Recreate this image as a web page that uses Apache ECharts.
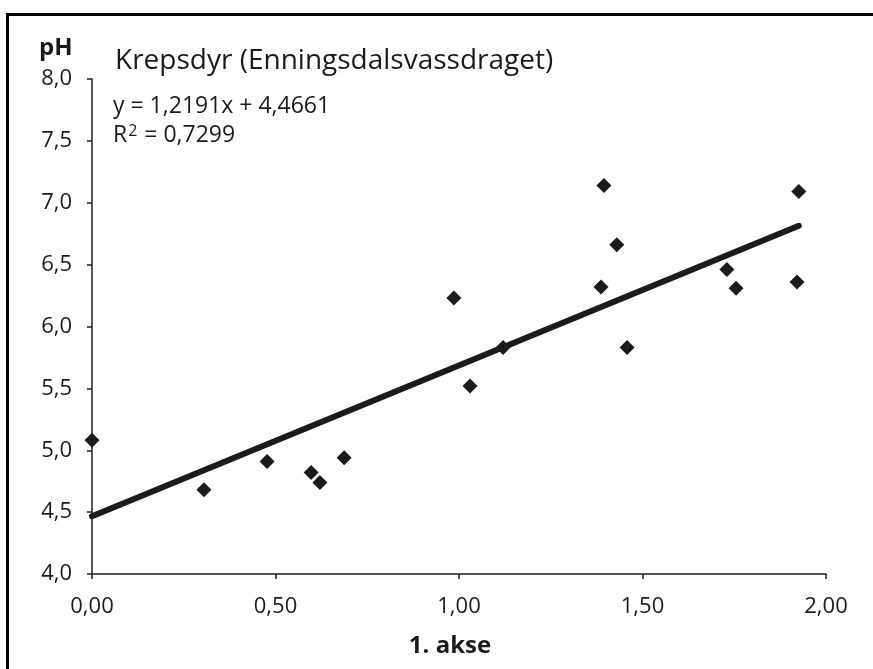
<!DOCTYPE html>
<html>
<head>
<meta charset="utf-8">
<style>
  html, body { margin: 0; padding: 0; background: #fff; }
  #chart { width: 873px; height: 669px; }
</style>
<script src="https://cdn.jsdelivr.net/npm/echarts@6/dist/echarts.min.js"></script>
</head>
<body>
<div id="chart"></div>
<script>
// Data
const pointX = [0.00, 0.305, 0.477, 0.597, 0.621, 0.687, 0.986, 1.03, 1.120, 1.387, 1.395, 1.430, 1.458, 1.730, 1.755, 1.921, 1.926];
const pointY = [5.08, 4.68, 4.91, 4.82, 4.74, 4.94, 6.23, 5.52, 5.83, 6.32, 7.14, 6.66, 5.83, 6.46, 6.31, 6.36, 7.09];
const trendX = [0.00, 1.926];
const trendY = [4.466, 6.814];
const titleText = 'Krepsdyr (Enningsdalsvassdraget)';
const equationText = 'y = 1,2191x + 4,4661';
const r2Text = 'R{sup|2} = 0,7299';
const xAxisName = '1. akse';
const yAxisName = 'pH';

const ink = '#1c1a1b';
const font = '"Open Sans", "Noto Sans", sans-serif';

const chart = echarts.init(document.getElementById('chart'), null, { renderer: 'canvas' });
const comma = (v, d) => v.toFixed(d).replace('.', ',');

chart.setOption({
  animation: false,
  backgroundColor: '#fff',
  grid: { left: 92, right: 47, top: 79, bottom: 95, containLabel: false },
  xAxis: {
    type: 'value', min: 0, max: 2, interval: 0.5,
    name: xAxisName, nameLocation: 'middle', nameGap: 60,
    nameTextStyle: { fontFamily: font, fontWeight: 'bold', fontSize: 24, color: ink, padding: [0, 18, 0, 0] },
    axisLine: { show: true, onZero: false, lineStyle: { color: '#231f20', width: 1.5 } },
    axisTick: { show: true, length: 5, lineStyle: { color: '#231f20', width: 1.5 } },
    axisLabel: { margin: 22, fontFamily: font, fontSize: 22, color: ink, formatter: v => comma(v, 2) },
    splitLine: { show: false }
  },
  yAxis: {
    type: 'value', min: 4, max: 8, interval: 0.5,
    axisLine: { show: true, onZero: false, lineStyle: { color: '#231f20', width: 1.5 } },
    axisTick: { show: true, length: 5, lineStyle: { color: '#231f20', width: 1.5 } },
    axisLabel: { margin: 20, fontFamily: font, fontSize: 22, color: ink, formatter: v => comma(v, 1) },
    splitLine: { show: false }
  },
  graphic: [
    { type: 'polyline', z: 10, shape: { points: [[7.5, 669], [7.5, 14.5], [873, 14.5]] },
      style: { stroke: '#000', lineWidth: 3, fill: null } },
    { type: 'text', left: 39, top: 36, style: { text: yAxisName, font: 'bold 24px ' + font, fill: ink } },
    { type: 'text', left: 115, top: 47, style: { text: titleText, font: '28px ' + font, fill: ink } },
    { type: 'text', left: 113, top: 95, style: { text: equationText, font: '23px ' + font, fill: ink } },
    { type: 'text', left: 113, top: 123, style: {
        text: r2Text, font: '23px ' + font, fill: ink,
        rich: { sup: { fontSize: 16, verticalAlign: 'top', padding: [0, 1, 8, 1], fontFamily: font, fill: ink } } } }
  ],
  series: [
    {
      type: 'line',
      data: trendX.map((x, i) => [x, trendY[i]]),
      showSymbol: false, symbol: 'none',
      lineStyle: { color: ink, width: 6, cap: 'round' },
      z: 2, silent: true
    },
    {
      type: 'scatter',
      data: pointX.map((x, i) => [x, pointY[i]]),
      symbol: 'diamond', symbolSize: [15, 15],
      itemStyle: { color: ink, opacity: 1 },
      z: 3
    }
  ]
});
</script>
</body>
</html>
